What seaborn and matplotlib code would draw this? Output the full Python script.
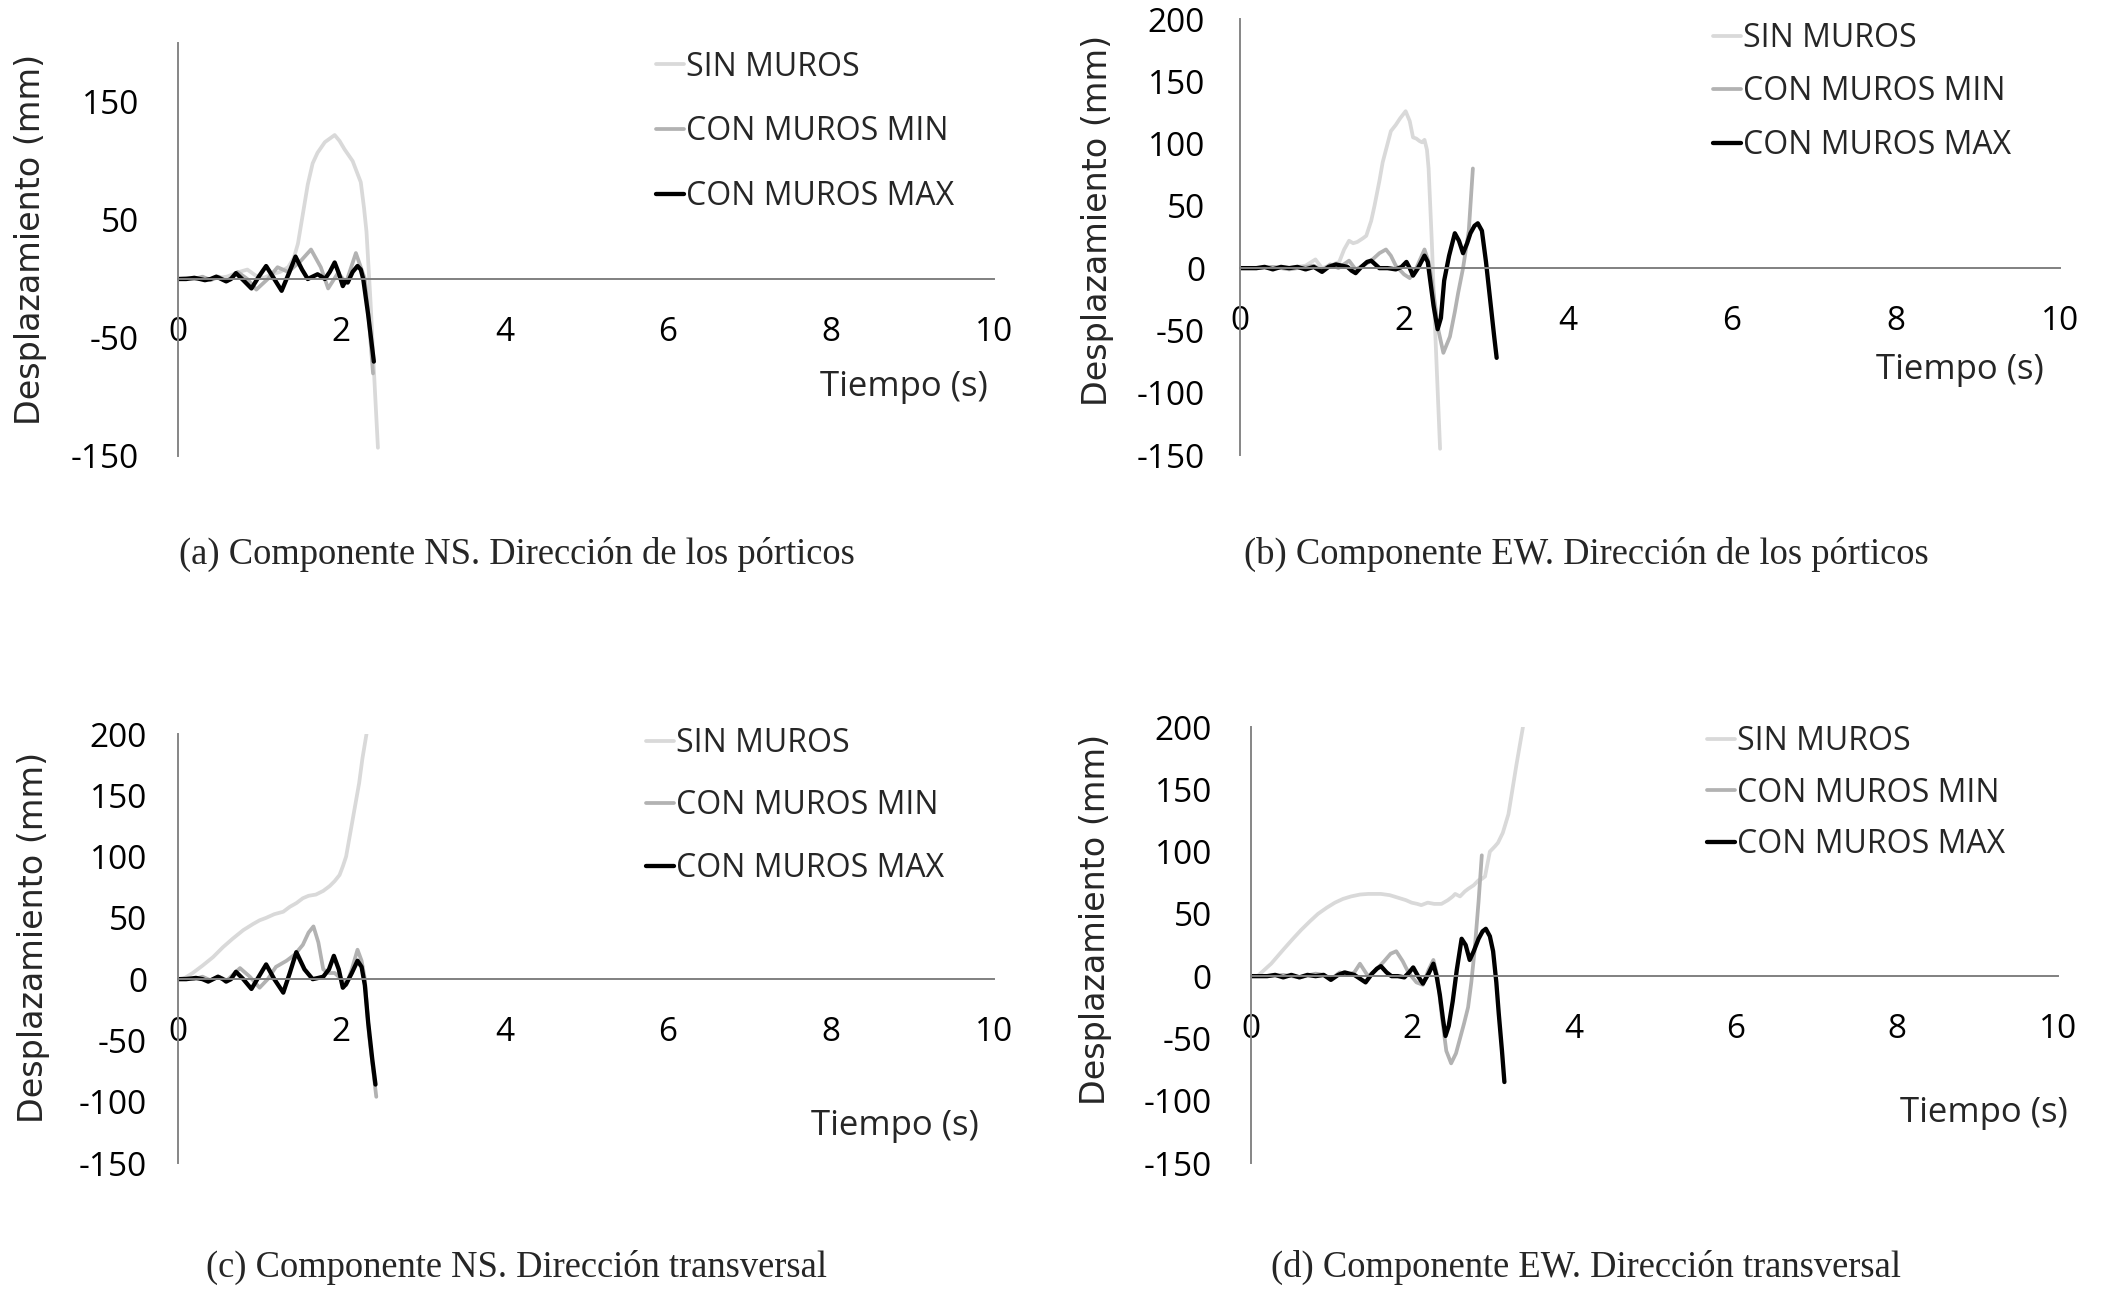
import matplotlib
matplotlib.use("Agg")
import matplotlib.pyplot as plt
import seaborn as sns
import pandas as pd

# ---------------- data ----------------
series_names = ["SIN MUROS", "CON MUROS MIN", "CON MUROS MAX"]
series_colors = ["#d9d9d9", "#b2b2b2", "#000000"]
series_widths = [2.7, 2.7, 3.1]

# (a) NS - porticos
t_a_sin = [0, 0.2, 0.4, 0.6, 0.75, 0.85, 0.95, 1.05, 1.15, 1.25, 1.35, 1.42, 1.47, 1.53, 1.59,
           1.65, 1.71, 1.8, 1.92, 1.98, 2.04, 2.14, 2.24, 2.28, 2.31, 2.36, 2.41, 2.45]
d_a_sin = [0, 1, 0, 2, 6, 8, 3, 1, 4, 6, 10, 18, 30, 55, 80,
           98, 107, 116, 122, 117, 110, 100, 82, 60, 40, -20, -90, -143]
t_a_min = [0, 0.1, 0.2, 0.3, 0.4, 0.5, 0.6, 0.73, 0.85, 0.96, 1.1, 1.22, 1.35, 1.5, 1.63,
           1.75, 1.84, 1.96, 2.06, 2.18, 2.29, 2.34, 2.39]
d_a_min = [0, 1, 0, 2, -1, 2, -2, 6, 0, -9, 0, 10, 6, 15, 25,
           10, -8, 5, -3, 22, 0, -35, -80]
t_a_max = [0, 0.1, 0.2, 0.27, 0.33, 0.4, 0.47, 0.53, 0.59, 0.65, 0.71, 0.8, 0.9, 0.99, 1.08,
           1.18, 1.27, 1.36, 1.44, 1.52, 1.59, 1.65, 1.71, 1.76, 1.8, 1.86, 1.92, 1.97, 2.02,
           2.05, 2.08, 2.14, 2.2, 2.24, 2.27, 2.33, 2.4]
d_a_max = [0, 0, 1, 0, -1, 0, 2, 0, -2, 0, 5, -1, -8, 2, 11,
           0, -10, 5, 19, 8, 0, 2, 4, 2, 0, 6, 14, 5, -6,
           -2, -3, 6, 11, 8, 0, -30, -70]

# (b) EW - porticos
t_b_sin = [0, 0.2, 0.4, 0.6, 0.8, 0.92, 1.0, 1.1, 1.21, 1.27, 1.33, 1.38, 1.43, 1.5, 1.54,
           1.6, 1.64, 1.7, 1.74, 1.8, 1.84, 1.9, 1.95, 2.02, 2.07, 2.11, 2.15, 2.19, 2.22,
           2.25, 2.28, 2.3, 2.34, 2.38, 2.44]
d_b_sin = [0, 0, 1, 0, 2, 7, 0, 2, 5, 15, 22, 20, 21, 24, 26,
           38, 50, 70, 85, 100, 110, 115, 120, 126, 118, 105, 104, 102, 101,
           103, 95, 80, 20, -50, -145]
t_b_min = [0, 0.2, 0.4, 0.6, 0.8, 0.9, 1.0, 1.1, 1.2, 1.33, 1.41, 1.5, 1.6, 1.7, 1.78,
           1.84, 1.9, 2.0, 2.07, 2.15, 2.25, 2.3, 2.34, 2.38, 2.42, 2.48, 2.56, 2.62, 2.66,
           2.72, 2.79, 2.84]
d_b_min = [0, 0, 1, -1, 1, 2, -2, 3, 0, 6, -1, 2, 6, 12, 15,
           10, 2, -5, -8, 0, 15, 5, -10, -30, -50, -68, -55, -35, -20,
           0, 30, 80]
t_b_max = [0, 0.1, 0.2, 0.3, 0.4, 0.5, 0.6, 0.7, 0.8, 0.9, 1.0, 1.08, 1.17, 1.24, 1.31,
           1.36, 1.41, 1.48, 1.55, 1.6, 1.65, 1.7, 1.8, 1.9, 1.97, 2.03, 2.07, 2.11, 2.17,
           2.25, 2.29, 2.32, 2.36, 2.41, 2.45, 2.49, 2.55, 2.62, 2.67, 2.72, 2.77, 2.81,
           2.86, 2.9, 2.95, 3.0, 3.05, 3.1, 3.13]
d_b_max = [0, 0, 0, 1, -1, 1, 0, 1, -1, 1, -3, 1, 3, 2, 1,
           -2, -4, 1, 5, 6, 3, 0, 0, -1, 1, 5, 0, -6, 0,
           10, 5, -10, -30, -49, -40, -10, 10, 28, 22, 12, 20, 28,
           34, 36, 30, 5, -25, -55, -72]

# (c) NS - transversal
t_c_sin = [0, 0.06, 0.18, 0.3, 0.43, 0.55, 0.67, 0.8, 0.92, 1.0, 1.08, 1.18, 1.29, 1.37, 1.45,
           1.53, 1.6, 1.69, 1.78, 1.86, 1.92, 1.98, 2.02, 2.06, 2.1, 2.14, 2.18, 2.22, 2.26, 2.31]
d_c_sin = [0, 0, 5, 11, 18, 26, 33, 40, 45, 48, 50, 53, 55, 59, 62,
           66, 68, 69, 72, 76, 80, 85, 92, 100, 115, 130, 145, 160, 180, 200]
t_c_min = [0, 0.1, 0.2, 0.3, 0.4, 0.5, 0.6, 0.76, 0.88, 1.0, 1.1, 1.2, 1.33, 1.43, 1.53,
           1.6, 1.66, 1.72, 1.78, 1.85, 1.92, 2.0, 2.06, 2.13, 2.2, 2.25, 2.29, 2.34, 2.43]
d_c_min = [0, 1, 0, 2, -1, 2, -1, 9, 2, -7, 0, 10, 15, 20, 28,
           38, 43, 30, 8, 5, 5, 0, -5, 8, 24, 15, 0, -45, -96]
t_c_max = [0, 0.1, 0.22, 0.3, 0.37, 0.43, 0.49, 0.55, 0.59, 0.65, 0.71, 0.8, 0.9, 0.99, 1.08,
           1.18, 1.29, 1.37, 1.45, 1.55, 1.65, 1.72, 1.78, 1.85, 1.91, 1.97, 2.02, 2.06, 2.13,
           2.2, 2.25, 2.29, 2.33, 2.38, 2.42]
d_c_max = [0, 0, 1, 0, -2, 0, 2, 0, -2, 0, 6, 0, -8, 2, 12,
           0, -11, 5, 22, 8, 0, 1, 2, 8, 19, 8, -7, -4, 5,
           15, 10, -5, -35, -65, -86]

# (d) EW - transversal
t_d_sin = [0, 0.08, 0.25, 0.41, 0.52, 0.62, 0.73, 0.83, 0.94, 1.04, 1.14, 1.24, 1.35, 1.45, 1.61,
           1.72, 1.82, 1.92, 1.99, 2.06, 2.11, 2.19, 2.27, 2.36, 2.44, 2.5, 2.53, 2.59, 2.65,
           2.69, 2.76, 2.82, 2.86, 2.9, 2.93, 2.96, 3.02, 3.06, 3.12, 3.19, 3.24, 3.29, 3.33, 3.37]
d_d_sin = [0, 0, 10, 22, 30, 37, 44, 50, 55, 59, 62, 64, 65.5, 66, 66,
           65, 63, 61, 59, 58, 57, 59, 58, 58, 61, 64, 66, 64, 68,
           70, 73, 77, 78, 80, 90, 100, 104, 107, 115, 130, 150, 170, 185, 200]
t_d_min = [0, 0.2, 0.4, 0.6, 0.8, 0.9, 1.0, 1.1, 1.2, 1.28, 1.35, 1.45, 1.55, 1.65, 1.73,
           1.8, 1.88, 1.95, 2.05, 2.13, 2.2, 2.26, 2.31, 2.36, 2.42, 2.48, 2.54, 2.59, 2.64,
           2.69, 2.73, 2.77, 2.82, 2.86]
d_d_min = [0, 0, 1, -1, 2, 1, -2, 3, 1, 3, 10, 0, 5, 12, 18,
           20, 12, 3, -5, -7, 5, 13, 0, -30, -60, -70, -62, -50, -38,
           -25, -5, 20, 60, 97]
t_d_max = [0, 0.1, 0.2, 0.3, 0.4, 0.5, 0.6, 0.7, 0.8, 0.9, 0.99, 1.08, 1.16, 1.22, 1.28,
           1.35, 1.42, 1.5, 1.56, 1.61, 1.68, 1.74, 1.82, 1.9, 1.96, 2.01, 2.07, 2.13, 2.2,
           2.26, 2.3, 2.34, 2.38, 2.41, 2.45, 2.5, 2.55, 2.61, 2.66, 2.71, 2.76, 2.82, 2.87,
           2.91, 2.96, 3.0, 3.04, 3.07, 3.11, 3.14]
d_d_max = [0, 0, 0, 1, -1, 1, -1, 1, 0, 1, -3, 1, 3, 2, 1,
           -2, -5, 2, 6, 8, 3, 0, 0, -1, 3, 7, 0, -6, 2,
           10, 0, -15, -35, -48, -40, -20, 5, 30, 25, 13, 20, 30, 36,
           38, 32, 20, -5, -30, -60, -85]

captions = ["(a) Componente NS. Dirección de los pórticos",
            "(b) Componente EW. Dirección de los pórticos",
            "(c) Componente NS. Dirección transversal",
            "(d) Componente EW. Dirección transversal"]
x_ticks = [0, 2, 4, 6, 8, 10]
y_ticks_a = [-150, -50, 50, 150]
y_ticks_other = [-150, -100, -50, 0, 50, 100, 150, 200]

panels = [
    [(t_a_sin, d_a_sin), (t_a_min, d_a_min), (t_a_max, d_a_max)],
    [(t_b_sin, d_b_sin), (t_b_min, d_b_min), (t_b_max, d_b_max)],
    [(t_c_sin, d_c_sin), (t_c_min, d_c_min), (t_c_max, d_c_max)],
    [(t_d_sin, d_d_sin), (t_d_min, d_d_min), (t_d_max, d_d_max)],
]

# ---------------- layout (pixels of the 2109x1304 canvas) ----------------
W, H = 2109, 1304
axes_px = [(178, 43, 994, 456), (1240, 19, 2060, 455),
           (178, 734, 994, 1163), (1251, 727, 2058, 1163)]
ytick_pad = [27, 23, 19, 27]
xlabel_pos = [(988, 387), (2044, 370), (979, 1126), (2068, 1113)]
ylabel_pos = [(31, 239), (1097, 220), (34, 937), (1096, 919)]
legend_pos = [(686, 132), (1743, 92), (676, 806), (1737, 793)]
legend_space = [1.0, 0.65, 0.93, 0.58]
caption_pos = [(517, 554), (1586, 554), (517, 1267), (1586, 1267)]

sns.set_theme(style="white")
plt.rcParams["font.family"] = ["Open Sans", "DejaVu Sans"]
plt.rcParams["axes.unicode_minus"] = False

fig = plt.figure(figsize=(W / 100, H / 100), dpi=100)
px = 72 / 100  # points per pixel

for i, series in enumerate(panels):
    x0, y0, x1, y1 = axes_px[i]
    ax = fig.add_axes([x0 / W, 1 - y1 / H, (x1 - x0) / W, (y1 - y0) / H])
    for (t, d), name, col, lw in zip(series, series_names, series_colors, series_widths):
        df = pd.DataFrame({"t": t, "d": d})
        sns.lineplot(data=df, x="t", y="d", ax=ax, color=col, linewidth=lw,
                     label=name, sort=False, estimator=None)
    ax.set_xlim(0, 10)
    ax.set_ylim(-150, 200)
    ax.set_xticks(x_ticks)
    ax.set_yticks(y_ticks_a if i == 0 else y_ticks_other)
    ax.set_xlabel("")
    ax.set_ylabel("")
    for s in ["top", "right"]:
        ax.spines[s].set_visible(False)
    ax.spines["bottom"].set_position(("data", 0))
    ax.spines["bottom"].set_color("#808080")
    ax.spines["left"].set_color("#868686")
    ax.spines["bottom"].set_linewidth(1.4)
    ax.spines["left"].set_linewidth(1.4)
    ax.tick_params(axis="both", which="major", direction="out", length=12 * px,
                   width=1.4, color="#868686", labelsize=24, labelcolor="black")
    ax.tick_params(axis="x", pad=18)
    ax.tick_params(axis="y", pad=ytick_pad[i] * px)
    ax.grid(False)

    # axis titles
    xl = xlabel_pos[i]
    fig.text(xl[0] / W, 1 - xl[1] / H, "Tiempo (s)", ha="right", va="center", fontsize=25)
    yl = ylabel_pos[i]
    fig.text(yl[0] / W, 1 - yl[1] / H, "Desplazamiento (mm)", ha="center", va="center",
             rotation=90, fontsize=24, family="DejaVu Sans")

    # legend
    lg = legend_pos[i]
    fs = 23
    hl = 0.9
    htp = 0.05
    left = lg[0] - (hl + htp) * fs / px
    ax.legend(loc="center left", bbox_to_anchor=(left / W, 1 - lg[1] / H),
              bbox_transform=fig.transFigure, frameon=False, fontsize=fs,
              handlelength=hl, handletextpad=htp, borderpad=0, borderaxespad=0,
              labelspacing=legend_space[i])

    cp = caption_pos[i]
    fig.text(cp[0] / W, 1 - cp[1] / H, captions[i], ha="center", va="center",
             fontsize=26.3, family="Liberation Serif")

fig.savefig("out.png", dpi=100)
